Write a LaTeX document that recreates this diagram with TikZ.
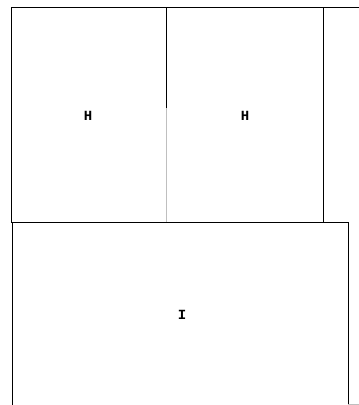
\documentclass[tikz,border=0pt]{standalone}
\usepackage{fontspec}
\setmonofont{Liberation Mono}
\begin{document}
\begin{tikzpicture}[x=1pt,y=-1pt,
  wall/.style={line width=1pt,black},
  faint/.style={line width=1pt,black!25},
  lbl/.style={font=\ttfamily\bfseries\fontsize{14}{14}\selectfont,inner sep=0pt}]
\useasboundingbox[fill=white] (0,0) rectangle (359,405);
% top edge
\draw[wall] (11,7) -- (359,7);
% left room H
\draw[wall] (11,7) -- (11,222);
\draw[wall] (166,7) -- (166,108);
\draw[faint] (166,108) -- (166,222);
% right room H
\draw[wall] (323,8) -- (323,222);
% middle horizontal
\draw[wall] (11,222) -- (348,222);
% room I
\draw[wall] (12,222) -- (12,405);
\draw[wall] (348,222) -- (348,404);
\draw[faint] (348,404) -- (359,404);
% labels
\node[lbl] (h1) at (88,116) {H};
\node[lbl] (h2) at (245,116) {H};
\node[lbl] (i1) at (182,315) {I};
\end{tikzpicture}
\end{document}
